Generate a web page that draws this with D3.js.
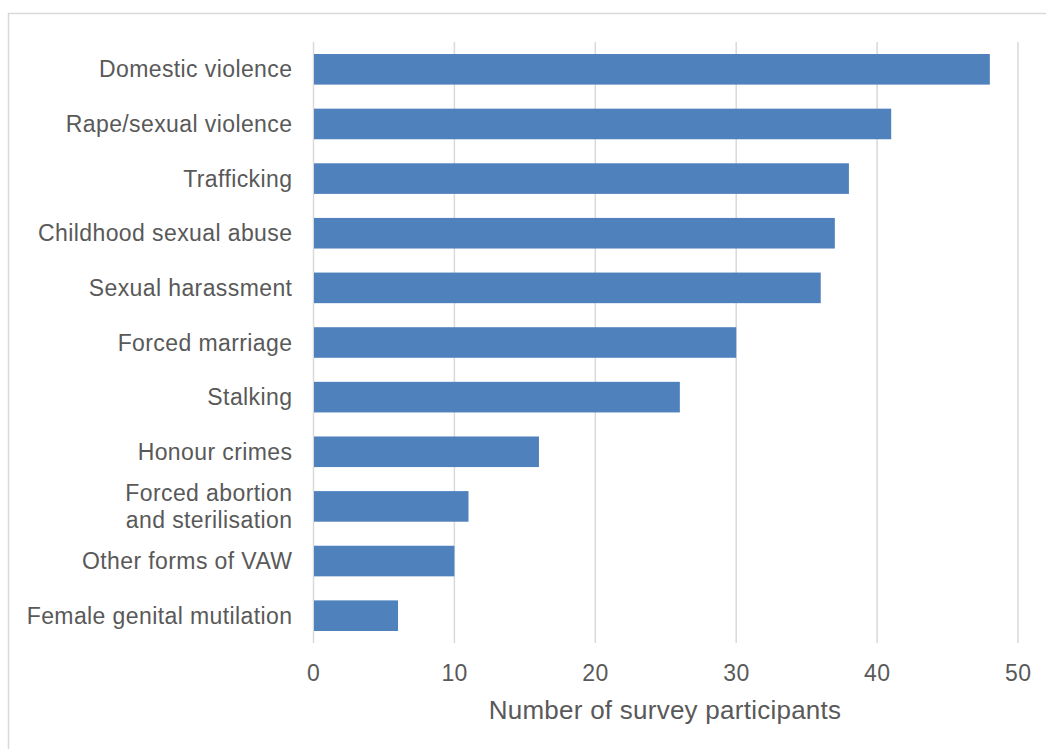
<!DOCTYPE html>
<html><head><meta charset="utf-8">
<script src="https://cdn.jsdelivr.net/npm/d3@7"></script>
<style>body{margin:0;background:#fff}svg{display:block}text{font-family:"Liberation Sans",Arial,sans-serif;fill:#595959}</style>
</head><body><svg id="c" width="1046" height="749"></svg>
<script>
const categories = ["Domestic violence","Rape/sexual violence","Trafficking","Childhood sexual abuse","Sexual harassment","Forced marriage","Stalking","Honour crimes","Forced abortion\nand sterilisation","Other forms of VAW","Female genital mutilation"];
const values = [48,41,38,37,36,30,26,16,11,10,6];
const ticks = [0,10,20,30,40,50];
const axisTitle = "Number of survey participants";

const svg = d3.select("#c");
svg.append("rect").attr("x",8.5).attr("y",13.5).attr("width",1100).attr("height",800)
  .attr("fill","none").attr("stroke","#d9d9d9").attr("stroke-width",1.5);

const x = d3.scaleLinear().domain([0,50]).range([313.5,1018]);
const y = d3.scaleBand().domain(categories).range([42,643]).paddingInner(0.44).paddingOuter(0.22);

svg.append("g").selectAll("line").data(ticks).join("line")
  .attr("x1",d=>x(d)).attr("x2",d=>x(d)).attr("y1",42).attr("y2",643)
  .attr("stroke","#d9d9d9").attr("stroke-width",1.5);

svg.append("g").selectAll("rect").data(values).join("rect")
  .attr("x",x(0)+0.5).attr("y",(d,i)=>y(categories[i]))
  .attr("width",d=>x(d)-x(0)-0.5).attr("height",y.bandwidth())
  .attr("fill","#4f81bd");

const ls = 0.4;
const lab = svg.append("g");
categories.forEach(c=>{
  const lines = c.split("\n");
  const cy = y(c)+y.bandwidth()/2;
  const lh = 27;
  lines.forEach((l,j)=>{
    lab.append("text").attr("x",292+ls).attr("y",cy+(j-(lines.length-1)/2)*lh)
      .attr("dy","0.35em").attr("text-anchor","end").attr("font-size",23)
      .attr("letter-spacing",ls).text(l);
  });
});

svg.append("g").selectAll("text").data(ticks).join("text")
  .attr("x",d=>x(d)+ls/2).attr("y",681).attr("text-anchor","middle")
  .attr("font-size",23).attr("letter-spacing",ls).text(d=>d);

svg.append("text").attr("x",665).attr("y",719).attr("text-anchor","middle")
  .attr("font-size",26).attr("letter-spacing",0.25).text(axisTitle);
</script></body></html>
